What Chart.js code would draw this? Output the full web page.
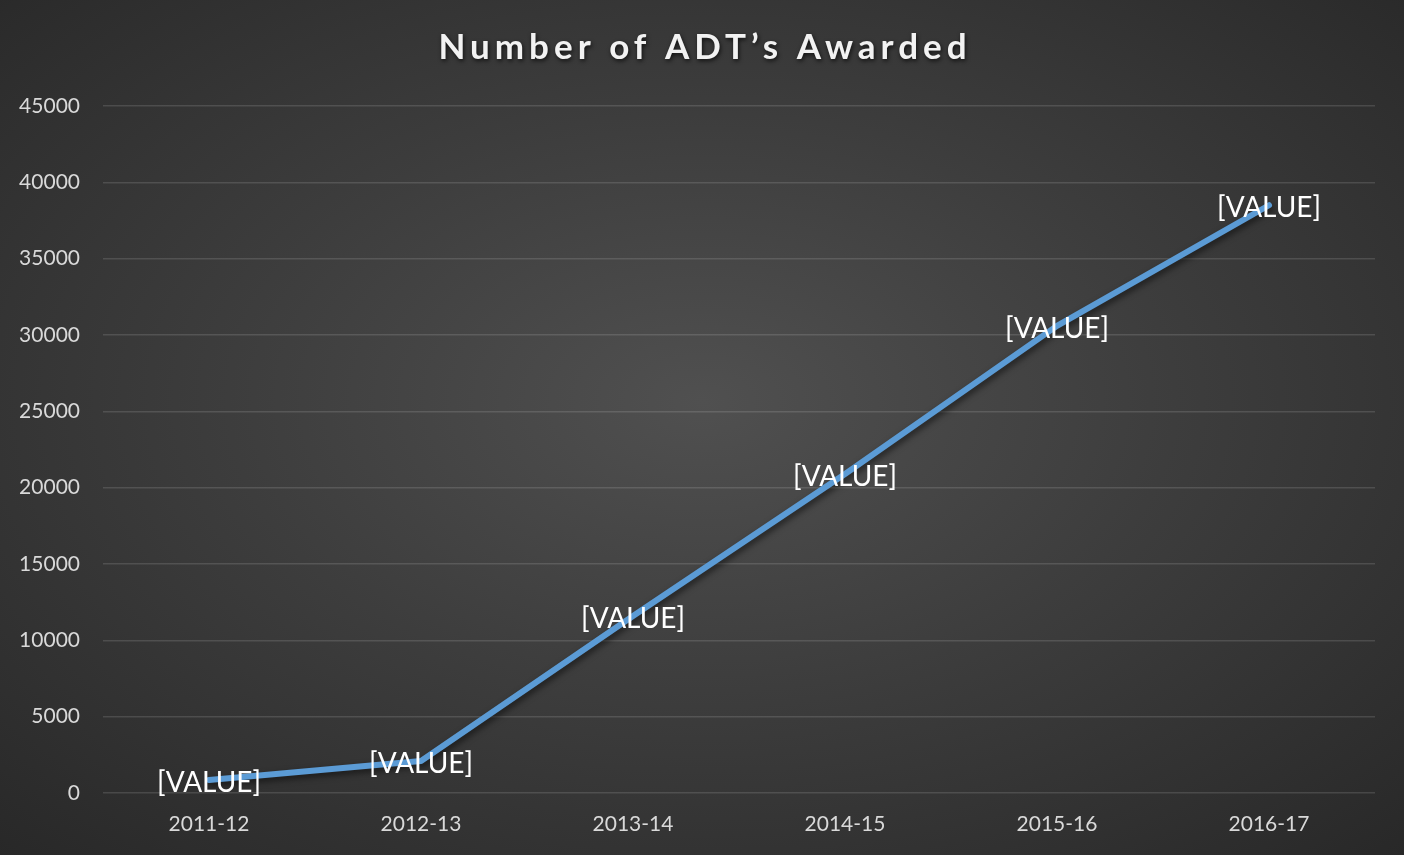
<!DOCTYPE html>
<html>
<head>
<meta charset="utf-8">
<script src="https://cdn.jsdelivr.net/npm/chart.js@4"></script>
<style>
html,body{margin:0;padding:0;background:#262626;}
#wrap{position:relative;width:1404px;height:855px;
background:radial-gradient(ellipse 75% 75% at 50% 47%, #505050 0%, #3d3d3d 45%, #272727 100%);}
canvas{display:block;}
</style>
</head>
<body>
<div id="wrap"><canvas id="c" width="1404" height="855"></canvas></div>
<script>
const categories = ["2011-12","2012-13","2013-14","2014-15","2015-16","2016-17"];
const adtAwarded = [850, 2100, 11600, 20900, 30600, 38500];
const pointLabels = ["[VALUE]","[VALUE]","[VALUE]","[VALUE]","[VALUE]","[VALUE]"];
const chartTitle = "Number of ADT\u2019s Awarded";
const yTicks = {min:0, max:45000, step:5000};

const FONT = "Lato, 'Open Sans', sans-serif";

const titlePlugin = {
  id:'titleDraw',
  afterDraw(chart){
    const ctx = chart.ctx;
    ctx.save();
    ctx.font = "bold 35px " + FONT;
    ctx.textAlign = 'center';
    ctx.textBaseline = 'middle';
    try{ ctx.letterSpacing = "5px"; }catch(e){}
    ctx.shadowColor = 'rgba(0,0,0,0.7)';
    ctx.shadowBlur = 4;
    ctx.shadowOffsetX = 1;
    ctx.shadowOffsetY = 2;
    ctx.fillStyle = '#f2f2f2';
    ctx.fillText(chartTitle, 705, 48);
    ctx.restore();
  }
};

const shadowPlugin = {
  id:'lineShadow',
  beforeDatasetDraw(chart){
    const ctx = chart.ctx;
    ctx.save();
    ctx.shadowColor = 'rgba(0,0,0,0.55)';
    ctx.shadowBlur = 6;
    ctx.shadowOffsetX = 2;
    ctx.shadowOffsetY = 3;
  },
  afterDatasetDraw(chart){
    chart.ctx.restore();
  }
};

const labelPlugin = {
  id:'valueLabels',
  afterDatasetsDraw(chart){
    const ctx = chart.ctx;
    const meta = chart.getDatasetMeta(0);
    ctx.save();
    ctx.font = "28px " + FONT;
    ctx.textAlign = 'center';
    ctx.textBaseline = 'middle';
    ctx.fillStyle = '#ffffff';
    meta.data.forEach((pt,i)=>{
      ctx.fillText(pointLabels[i], pt.x, pt.y + 3);
    });
    ctx.restore();
  }
};

new Chart(document.getElementById('c'), {
  type:'line',
  data:{
    labels: categories,
    datasets:[{
      data: adtAwarded,
      borderColor:'#5b9bd5',
      borderWidth:6,
      pointRadius:0,
      tension:0,
      fill:false,
      borderCapStyle:'round',
      borderJoinStyle:'round'
    }]
  },
  options:{
    responsive:false,
    animation:false,
    devicePixelRatio:1,
    layout:{padding:{top:106, right:29, left:0, bottom:0}},
    plugins:{legend:{display:false}, tooltip:{enabled:false}, title:{display:false}},
    scales:{
      x:{
        offset:true,
        grid:{display:false, drawTicks:false},
        border:{display:false},
        ticks:{color:'#d9d9d9', font:{family:FONT, size:21}, padding:19, maxRotation:0},
        afterFit(s){ s.height = 62; }
      },
      y:{
        min:yTicks.min, max:yTicks.max,
        ticks:{stepSize:yTicks.step, color:'#d9d9d9', font:{family:FONT, size:21}, padding:23,
          callback:(v)=>String(v)},
        grid:{color:'rgba(255,255,255,0.13)', lineWidth:1.5, drawTicks:false},
        border:{display:false},
        afterFit(s){ s.width = 103; }
      }
    }
  },
  plugins:[titlePlugin, shadowPlugin, labelPlugin]
});
</script>
</body>
</html>
